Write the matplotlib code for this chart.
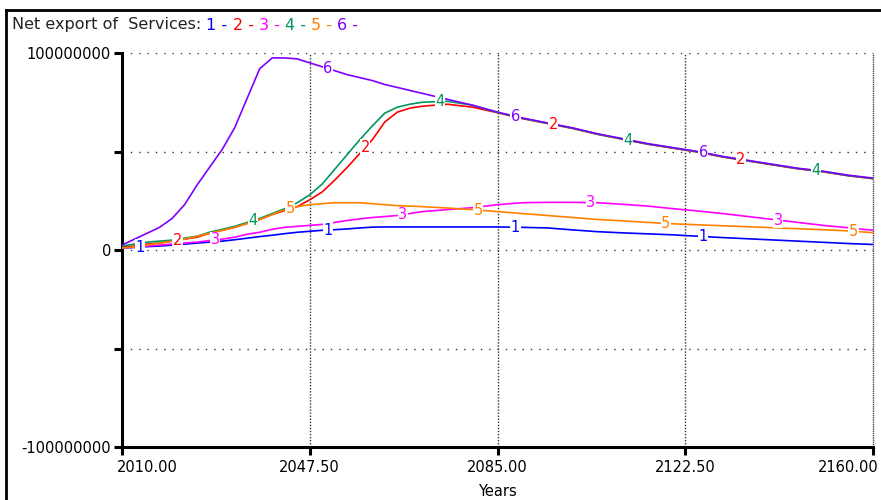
import numpy as np
import matplotlib
matplotlib.use("Agg")
import matplotlib.pyplot as plt
from matplotlib.lines import Line2D

# time axis (years) and series values in millions
years = [2010, 2012.5, 2015, 2017.5, 2020, 2022.5, 2025, 2027.5, 2030, 2032.5,
         2035, 2037.5, 2040, 2042.5, 2045, 2047.5, 2050, 2052.5, 2055, 2057.5,
         2060, 2062.5, 2065, 2067.5, 2070, 2075, 2080, 2085, 2090, 2095,
         2100, 2105, 2110, 2115, 2120, 2125, 2130, 2135, 2140, 2145,
         2150, 2155, 2160]

s1 = [1, 1.3, 1.7, 2, 2.5, 3, 3.5, 4, 4.5, 5.2,
      6, 6.8, 7.5, 8.3, 9, 9.5, 10, 10.3, 10.7, 11.2,
      11.6, 11.7, 11.7, 11.7, 11.7, 11.7, 11.7, 11.7, 11.5, 11.2,
      10.2, 9.3, 8.7, 8.2, 7.7, 7, 6.3, 5.7, 5.1, 4.5,
      3.9, 3.3, 2.8]
s2 = [1.5, 2, 3, 3.5, 4.5, 5.5, 6.5, 8.5, 10, 11.5,
      13.5, 15.5, 18, 20, 22, 25.5, 29.5, 35.5, 42, 49,
      56, 65, 70, 72, 73, 74, 72.5, 69.7, 66.7, 64.2,
      61.7, 58.7, 56.2, 53.7, 51.7, 49.7, 47.2, 45.2, 43.2, 41.2,
      39.7, 37.7, 36.2]
s3 = [1, 1.5, 2, 2.5, 3, 3.5, 4, 4.8, 5.5, 6.5,
      8, 9, 10.5, 11.5, 12, 12.5, 13, 14, 15, 15.8,
      16.5, 17, 17.5, 18.5, 19.5, 20.5, 21.5, 23, 24, 24.2,
      24.2, 24, 23.2, 22.3, 21, 19.8, 18.5, 17, 15.5, 14,
      12.5, 11.3, 10]
s4 = [2, 3, 4, 4.5, 5, 6, 7, 9, 10.5, 12,
      14, 16, 18.5, 21, 24, 28, 33.5, 41, 48.5, 56,
      63, 69.5, 72.5, 74, 75, 75.5, 73.5, 69.8, 66.8, 64.3,
      61.8, 58.8, 56.3, 53.8, 51.8, 49.8, 47.3, 45.3, 43.3, 41.3,
      39.8, 37.8, 36.3]
s5 = [1, 1.5, 2.5, 3.5, 4.5, 5.5, 7, 8.5, 10, 11.5,
      13.5, 15.5, 18, 20.5, 22, 23, 23.5, 24, 24, 24,
      23.5, 23, 22.5, 22.3, 22, 21.3, 20.5, 19.5, 18.5, 17.5,
      16.5, 15.5, 14.8, 14, 13.3, 12.8, 12.3, 11.8, 11.3, 10.8,
      10.3, 9.7, 8.8]
s6 = [2.5, 5.5, 8.5, 11.5, 16, 23, 33, 42, 51, 62,
      77, 92, 97.5, 97.5, 97, 95, 93, 91, 89, 87.5,
      86, 84, 82.5, 81, 79.5, 76.5, 73.5, 70, 67, 64.5,
      62, 59, 56.5, 54, 52, 50, 47.5, 45.5, 43.5, 41.5,
      40, 38, 36.5]

series = [s1, s2, s3, s4, s5, s6]
names = ["1", "2", "3", "4", "5", "6"]
colors = ["#0000ff", "#ff0000", "#ff00ff", "#00975a", "#ff8000", "#8000ff"]

xticks = [2010, 2047.5, 2085, 2122.5, 2160]
xlabels = ["2010.00", "2047.50", "2085.00", "2122.50", "2160.00"]
yticks = [100000000, 50000000, 0, -50000000, -100000000]
ylabels = ["100000000", "", "0", "", "-100000000"]

plt.rcParams["font.family"] = ["DejaVu Sans"]

fig = plt.figure(figsize=(8.81, 5.0), dpi=100)
ax = fig.add_axes([122 / 881, 53 / 500, 751 / 881, 394 / 500])

x = np.array(years)
for vals, c in zip(series, colors):
    ax.plot(x, np.array(vals) * 1e6, color=c, lw=1.2, zorder=3)

# number labels along the lines, Vensim style
for i, (vals, c) in enumerate(zip(series, colors)):
    lx = 2013.6 + i * 7.5
    while lx <= 2160:
        ly = np.interp(lx, x, np.array(vals) * 1e6)
        ax.text(lx, ly, names[i], color=c, fontsize=10.5, ha="center", va="center",
                zorder=5, bbox=dict(facecolor="white", edgecolor="none", pad=0.3))
        lx += 37.5

ax.set_xlim(2010, 2160)
ax.set_ylim(-100000000, 100000000)

# dotted grid
for yv in [100000000, 50000000, 0, -50000000]:
    ax.axhline(yv, color="#333333", lw=1, ls=(0, (1, 5)), zorder=1)
for xv in xticks[1:-1]:
    ax.axvline(xv, color="#333333", lw=1, ls=(0, (1, 1.2)), zorder=1)
ax.axvline(xticks[-1], color="#444444", lw=1, ls=(0, (1, 0.6)), zorder=1,
           clip_on=False)

for s in ["top", "right"]:
    ax.spines[s].set_visible(False)
ax.spines["left"].set_linewidth(2.2)
ax.spines["bottom"].set_linewidth(2.2)

ax.set_yticks(yticks)
ax.set_yticklabels(ylabels)
ax.set_xticks(xticks)
ax.set_xticklabels([])
ax.tick_params(axis="both", length=6, width=2.2, labelsize=10.5, pad=2)

# x tick labels, first and last pulled inside like the original
for i, (xv, lab) in enumerate(zip(xticks, xlabels)):
    ha, dx = "center", 0
    if i == 0:
        ha, dx = "left", -4
    elif i == len(xticks) - 1:
        ha, dx = "right", 4
    ax.annotate(lab, (xv, 0), xycoords=("data", "axes fraction"),
                xytext=(dx, -9), textcoords="offset points",
                ha=ha, va="top", fontsize=10.5)

ax.text(0.5, -0.095, "Years", transform=ax.transAxes, ha="center", va="top",
        fontsize=10.5)

# title with coloured series numbers
t = fig.text(12 / 881, 1 - 25 / 500, "Net export of  Services: ", fontsize=11.5,
             va="center", ha="left", color="#222222")
fig.canvas.draw()
tx = t.get_window_extent().x1 / 881
for n, c in zip(names, colors):
    t = fig.text(tx, 1 - 25 / 500, n + " - ", fontsize=11.5, va="center",
                 ha="left", color=c)
    fig.canvas.draw()
    tx = t.get_window_extent().x1 / 881

# frame lines of the panel
fig.add_artist(Line2D([6 / 881, 1], [1 - 10 / 500, 1 - 10 / 500], color="black", lw=2))
fig.add_artist(Line2D([6 / 881, 6 / 881], [0, 1 - 10 / 500], color="black", lw=2))

fig.savefig("out.png", dpi=100)
